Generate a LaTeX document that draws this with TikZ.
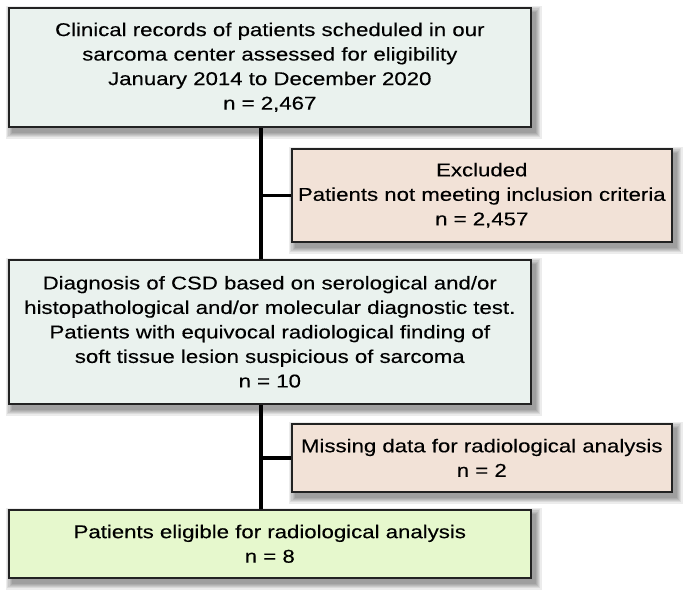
\documentclass[tikz,border=0pt]{standalone}
\usepackage{fontspec}
\setmainfont{Liberation Sans}[FakeStretch=1.2,FakeBold=0.25]
\usetikzlibrary{calc,backgrounds}
\definecolor{boxgray}{HTML}{EAF2EE}
\definecolor{boxpink}{HTML}{F2E2D7}
\definecolor{boxgreen}{HTML}{E6F8CD}
\definecolor{edge}{HTML}{222222}
\newcommand\boxshadow[1]{%
  \foreach \k in {0,1,2,3,4,5}{%
    \fill[black,opacity=0.075]
      ($(#1.north west)+(4-1.2*\k,5-1.2*\k)$) rectangle
      ($(#1.south east)+(4+1.2*\k,5+1.2*\k)$);
  }%
}
\tikzset{
  flowbox/.style={draw=edge, line width=1.6pt, anchor=north west, inner sep=0pt,
    align=center, font=\fontsize{18.5}{24.5}\selectfont},
  conn/.style={draw=black, line width=3.5pt}
}
\begin{document}
\begin{tikzpicture}[x=1pt,y=-1pt]
\useasboundingbox (0,0) rectangle (691,596);
\node[flowbox, fill=boxgray, minimum width=522pt, minimum height=119pt] (b1) at (8,7)
  {Clinical records of patients scheduled in our\\sarcoma center assessed for eligibility\\January 2014 to December 2020\\n = 2,467};
\node[flowbox, fill=boxpink, minimum width=380pt, minimum height=93pt] (b2) at (291,148)
  {Excluded\\Patients not meeting inclusion criteria\\n = 2,457};
\node[flowbox, fill=boxgray, minimum width=522pt, minimum height=144pt] (b3) at (8,259)
  {Diagnosis of CSD based on serological and/or\\histopathological and/or molecular diagnostic test.\\Patients with equivocal radiological finding of\\soft tissue lesion suspicious of sarcoma\\n = 10};
\node[flowbox, fill=boxpink, minimum width=380pt, minimum height=68pt] (b4) at (291,423)
  {Missing data for radiological analysis\\n = 2};
\node[flowbox, fill=boxgreen, minimum width=522pt, minimum height=68pt] (b5) at (8,509)
  {Patients eligible for radiological analysis\\n = 8};
\coordinate (spine) at (261,0);
\begin{scope}[on background layer]
  \fill[white] (0,0) rectangle (691,596);
  \boxshadow{b1}\boxshadow{b2}\boxshadow{b3}\boxshadow{b4}\boxshadow{b5}
  \draw[conn] (b1.south -| spine) -- (b5.north -| spine);
  \draw[conn] (b2.west -| spine) -- (b2.west);
  \draw[conn] (b4.west -| spine) -- (b4.west);
\end{scope}
\end{tikzpicture}
\end{document}
